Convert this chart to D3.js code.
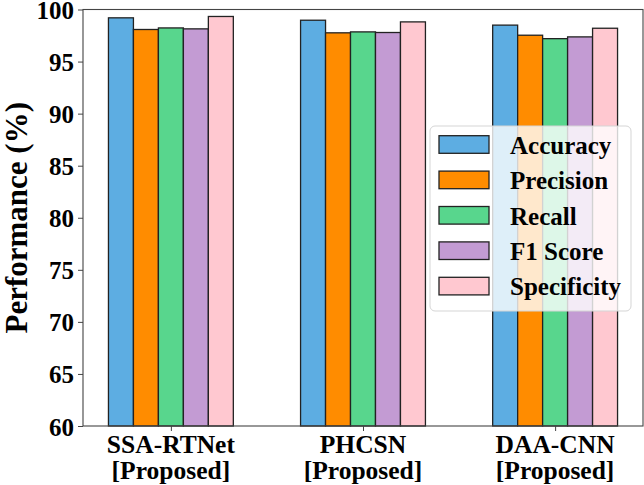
<!DOCTYPE html>
<html>
<head>
<meta charset="utf-8">
<script src="https://cdn.jsdelivr.net/npm/d3@7"></script>
<style>
  body { margin: 0; background: #fff; }
  text { font-family: "Liberation Serif", "Times New Roman", serif; font-weight: bold; fill: #000; }
</style>
</head>
<body>
<svg id="chart" width="644" height="485"></svg>
<script>
// data
var models = ["SSA-RTNet", "PHCSN", "DAA-CNN"];
var modelSub = ["[Proposed]", "[Proposed]", "[Proposed]"];
var metrics = ["Accuracy", "Precision", "Recall", "F1 Score", "Specificity"];
var accuracy    = [99.2, 98.97, 98.5];
var precision   = [98.08, 97.76, 97.53];
var recall      = [98.23, 97.85, 97.2];
var f1score     = [98.14, 97.79, 97.37];
var specificity = [99.33, 98.81, 98.2];
var yTicks = [60, 65, 70, 75, 80, 85, 90, 95, 100];
var colors = ["#5DADE2", "#FF8C00", "#58D68D", "#C39BD3", "#FFC8D0"];

var series = [accuracy, precision, recall, f1score, specificity];

// plot box (window.top is read only, so no "top" here)
var pLeft = 83, pRight = 643, pTop = 9.5, pBottom = 426;
var svg = d3.select("#chart");

var barW = 0.13;
var n = models.length;
var lo = -2 * barW - barW / 2, hi = (n - 1) + 2 * barW + barW / 2;
var pad = (hi - lo) * 0.05;

var x = d3.scaleLinear().domain([lo - pad, hi + pad]).range([pLeft, pRight]);
var y = d3.scaleLinear().domain([60, 100]).range([pBottom, pTop]);

// bars
var rows = [];
series.forEach(function(s, k) {
    s.forEach(function(v, i) {
        rows.push({model: i, metric: k, value: v});
    });
});

svg.append("g")
    .selectAll("rect")
    .data(rows)
    .enter().append("rect")
    .attr("x", function(d) { return x(d.model + (d.metric - 2) * barW - barW / 2); })
    .attr("width", function(d) { return x(barW) - x(0); })
    .attr("y", function(d) { return y(d.value); })
    .attr("height", function(d) { return y(60) - y(d.value); })
    .style("fill", function(d) { return colors[d.metric]; })
    .style("stroke", "#222")
    .style("stroke-width", 1.3);

// y axis
var yAxis = svg.append("g")
    .attr("transform", "translate(" + pLeft + ",0)")
    .call(d3.axisLeft(y).tickValues(yTicks).tickSize(5).tickPadding(4));
yAxis.select(".domain").remove();
yAxis.selectAll("line").style("stroke", "#444");
yAxis.selectAll("text")
    .style("font-size", "25px")
    .attr("dy", "0.36em");

// x axis
var xAxis = svg.append("g")
    .attr("transform", "translate(0," + pBottom + ")")
    .call(d3.axisBottom(x).tickValues(d3.range(n)).tickSize(5).tickFormat(""));
xAxis.select(".domain").remove();
xAxis.selectAll("line").style("stroke", "#444");

// two-line category labels
var lblG = svg.append("g");
lblG.selectAll("text.name")
    .data(models)
    .enter().append("text")
    .attr("class", "name")
    .attr("text-anchor", "middle")
    .style("font-size", "25.5px")
    .attr("x", function(d, i) { return x(i); })
    .attr("y", 453)
    .text(function(d) { return d; });
lblG.selectAll("text.sub")
    .data(modelSub)
    .enter().append("text")
    .attr("class", "sub")
    .attr("text-anchor", "middle")
    .style("font-size", "25.5px")
    .attr("x", function(d, i) { return x(i); })
    .attr("y", 479)
    .text(function(d) { return d; });

// frame
svg.append("rect")
    .attr("x", pLeft).attr("y", pTop)
    .attr("width", pRight - pLeft).attr("height", pBottom - pTop)
    .style("fill", "none")
    .style("stroke", "#444")
    .style("stroke-width", 1.1);

// y label
svg.append("text")
    .attr("transform", "translate(27," + ((pTop + pBottom) / 2) + ") rotate(-90)")
    .attr("text-anchor", "middle")
    .style("font-size", "31px")
    .text("Performance (%)");

// legend
var legend = svg.append("g").attr("transform", "translate(430,126)");
legend.append("rect")
    .attr("width", 201).attr("height", 185)
    .attr("rx", 5)
    .style("fill", "rgba(255,255,255,0.8)")
    .style("stroke", "#d5d5d5");

var item = legend.selectAll("g.item")
    .data(metrics)
    .enter().append("g")
    .attr("class", "item")
    .attr("transform", function(d, i) { return "translate(0," + (9.7 + i * 35.4) + ")"; });
item.append("rect")
    .attr("x", 9).attr("width", 50).attr("height", 17.6)
    .style("fill", function(d, i) { return colors[i]; })
    .style("stroke", "#222")
    .style("stroke-width", 1.3);
item.append("text")
    .attr("x", 80).attr("y", 18)
    .style("font-size", "25px")
    .text(function(d) { return d; });
</script>
</body>
</html>
